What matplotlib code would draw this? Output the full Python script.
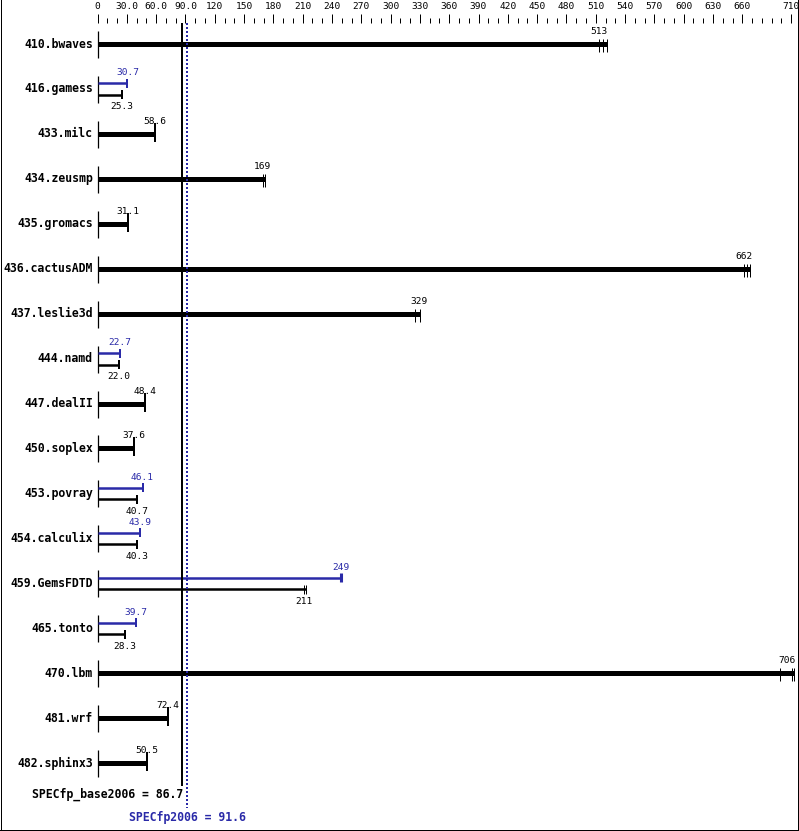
import numpy as np
import matplotlib
matplotlib.use('Agg')
import matplotlib.pyplot as plt
from matplotlib.lines import Line2D

# benchmark data (SPECfp2006)
names = ['410.bwaves', '416.gamess', '433.milc', '434.zeusmp', '435.gromacs',
         '436.cactusADM', '437.leslie3d', '444.namd', '447.dealII', '450.soplex',
         '453.povray', '454.calculix', '459.GemsFDTD', '465.tonto', '470.lbm',
         '481.wrf', '482.sphinx3']
base = [513, 25.3, 58.6, 169, 31.1, 662, 329, 22.0, 48.4, 37.6,
        40.7, 40.3, 211, 28.3, 706, 72.4, 50.5]
peak = [None, 30.7, None, None, None, None, None, 22.7, None, None,
        46.1, 43.9, 249, 39.7, None, None, None]
base_runs = [[513, 517, 521], [25.3], [58.6], [169, 171], [31.1],
             [662, 665, 668], [325, 330], [22.0], [48.4], [37.6],
             [40.7], [40.3], [211, 213], [28.3], [699, 711, 713], [72.4], [50.5]]
peak_runs = [None, [30.7], None, None, None, None, None, [22.7], None, None,
             [46.1], [43.9], [249], [39.7], None, None, None]
base_mean = 86.7
peak_mean = 91.6

BLUE = '#2a2aa8'
FONT = 'DejaVu Sans Mono'

W, H = 799, 831
X0, PX = 97.5, 0.977      # pixel of 0, pixels per unit
ROW0, ROWH = 44, 44.94    # first row centre, row spacing
AX_TOP = 22.7

fig = plt.figure(figsize=(W / 100, H / 100), dpi=100)
ax = fig.add_axes([0, 0, 1, (H - AX_TOP) / H])
ax.set_xlim(-X0 / PX, (W - X0) / PX)
ax.set_ylim((H - ROW0) / ROWH, (AX_TOP - ROW0) / ROWH)


def dy(p):
    return p / ROWH


def py(p):
    return (p - ROW0) / ROWH


def fmt(v):
    return f'{v:.0f}' if v >= 100 else f'{v:.1f}'


# top scale
major = list(np.arange(0, 661, 30)) + [710]
labels = [('%.1f' % v if 0 < v < 100 else '%d' % v) for v in major]
minor = [v for v in np.arange(0, 711, 10) if v not in major]
ax.xaxis.tick_top()
ax.set_xticks(major, labels)
ax.set_xticks(minor, minor=True)
ax.tick_params(which='major', length=6.3, width=0.72, pad=2, labelsize=6.8)
ax.tick_params(which='minor', length=3.4, width=0.72)
for lab in ax.get_xticklabels():
    lab.set_family(FONT)
ax.set_yticks([])
for s in ax.spines.values():
    s.set_visible(False)


def caps(runs, y, lo, hi, color, single_lw):
    if len(runs) == 1:
        ax.vlines(runs[0], y + dy(lo), y + dy(hi), color=color, lw=single_lw)
    else:
        ax.vlines(runs, y + dy(-5), y + dy(8), color=color, lw=0.72)


for i, name in enumerate(names):
    y = i
    ax.vlines(0, y - dy(13), y + dy(14), color='black', lw=0.9)
    ax.text(-4.6 / PX, y, name, ha='right', va='center', fontsize=8.3,
            fontweight='bold', family=FONT)
    if peak[i] is None:
        ax.hlines(y, 0, max(base_runs[i]), color='black', lw=3.6)
        caps(base_runs[i], y, -11, 8, 'black', 1.44)
        ax.text(base[i], y - dy(12.5), fmt(base[i]), ha='center', va='center',
                fontsize=6.8, family=FONT)
    else:
        yp = y - dy(5.5)
        yb = y + dy(6)
        ax.hlines(yp, 0, max(peak_runs[i]), color=BLUE, lw=1.8)
        ax.hlines(yb, 0, max(base_runs[i]), color='black', lw=1.8)
        if len(peak_runs[i]) == 1:
            ax.vlines(peak_runs[i][0], yp - dy(4.5), yp + dy(4.5), color=BLUE,
                      lw=2.2 if peak[i] > 200 else 1.44)
        if len(base_runs[i]) == 1:
            ax.vlines(base_runs[i][0], yb - dy(4.5), yb + dy(4.5), color='black', lw=1.44)
        else:
            ax.vlines(base_runs[i], yb - dy(4.5), yb + dy(4.5), color='black', lw=0.72)
        ax.text(peak[i], y - dy(16), fmt(peak[i]), ha='center', va='center',
                fontsize=6.8, family=FONT, color=BLUE)
        ax.text(base[i], y + dy(18), fmt(base[i]), ha='center', va='center',
                fontsize=6.8, family=FONT)

# summary lines, on top of the bars
ax.vlines(base_mean, py(AX_TOP), py(786), color='black', lw=1.44, zorder=4)
ax.vlines(peak_mean, py(AX_TOP), py(808), color=BLUE, lw=1.44,
          linestyles=(0, (1, 1)), zorder=4)
ax.text(base_mean + 0.8, py(794), 'SPECfp_base2006 = %.1f' % base_mean, ha='right',
        va='center', fontsize=8.3, fontweight='bold', family=FONT)
ax.text(peak_mean, py(817), 'SPECfp2006 = %.1f' % peak_mean, ha='center',
        va='center', fontsize=8.3, fontweight='bold', family=FONT, color=BLUE)

# frame
for xs, ys in [([0.5, 0.5], [0, 830]), ([797.5, 797.5], [0, 830]),
               ([0, 798], [829.5, 829.5])]:
    fig.add_artist(Line2D([x / W for x in xs], [1 - v / H for v in ys],
                          transform=fig.transFigure, color='black', lw=0.72))

fig.savefig('out.png', dpi=100, facecolor='white')
